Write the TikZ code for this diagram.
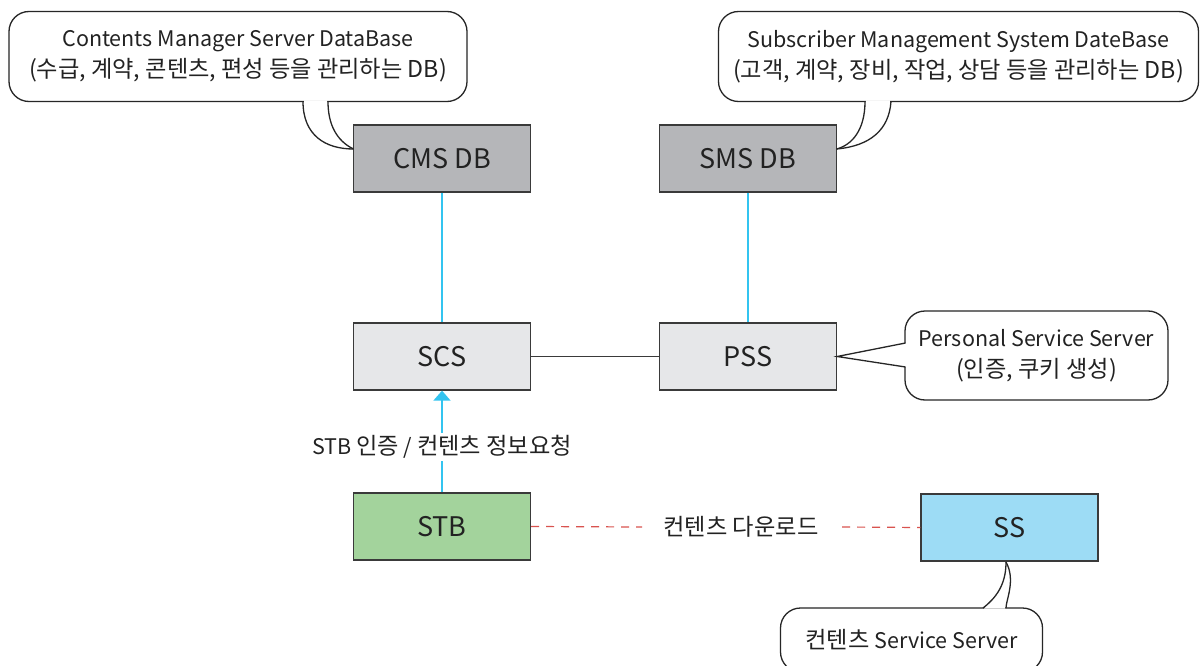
\documentclass[tikz,border=0pt]{standalone}
\usepackage{fontspec}
\setmainfont{Noto Sans CJK KR}
\newfontfamily\kr{Noto Sans CJK KR}[Scale=1.08]
\usetikzlibrary{arrows.meta}
\definecolor{txt}{HTML}{222222}
\definecolor{bord}{HTML}{3A3A3A}
\definecolor{dbgray}{HTML}{B5B6B9}
\definecolor{srvgray}{HTML}{E6E7E9}
\definecolor{stbgreen}{HTML}{A3D39C}
\definecolor{ssblue}{HTML}{9DDCF5}
\definecolor{cyanline}{HTML}{33C4F0}
\definecolor{dashred}{HTML}{D9534F}
\tikzset{
  box/.style={draw=bord, line width=1.3pt, minimum width=177pt, minimum height=67pt, inner sep=0pt,
    font=\fontsize{27}{32}\selectfont, text=txt},
  callout/.style={draw=black!85, line width=1.3pt, fill=white, rounded corners=20pt, inner sep=0pt,
    align=center, font=\fontsize{21.5}{31}\selectfont, text=txt},
  tailline/.style={draw=black!85, line width=1.3pt},
  cyanconn/.style={draw=cyanline, line width=1.8pt},
  lbl/.style={font=\fontsize{21.5}{24}\selectfont, text=txt, inner sep=0pt},
}
\begin{document}
\begin{tikzpicture}[x=1pt,y=-1pt]
\useasboundingbox[fill=white] (0,0) rectangle (1200,666);

% boxes
\node[box, fill=dbgray] (cms) at (442,158.5) {CMS DB};
\node[box, fill=dbgray] (sms) at (748,158.5) {SMS DB};
\node[box, fill=srvgray] (scs) at (442,356.5) {SCS};
\node[box, fill=srvgray] (pss) at (748,356.5) {PSS};
\node[box, fill=stbgreen] (stb) at (442,526.5) {STB};
\node[box, fill=ssblue] (ss) at (1009.5,527.5) {SS};

% connectors
\draw[cyanconn] (cms.south) -- (scs.north);
\draw[cyanconn] (sms.south) -- (pss.north);
\draw[draw=bord, line width=1.2pt] (scs.east) -- (pss.west);

\node[lbl, minimum height=28pt] (req) at (442,447) {STB {\kr 인증} / {\kr 컨텐츠 정보요청}};
\draw[cyanconn] (stb.north) -- (req.south);
\draw[cyanconn, -{Triangle[width=17pt,length=10pt]}] (req.north) -- (scs.south);

\node[lbl] (dl) at (741,527) {\kr 컨텐츠 다운로드};
\coordinate (dlw) at (642,527);
\coordinate (dle) at (842,527);
\draw[draw=dashred, line width=1.2pt, dash pattern=on 8pt off 7pt] (stb.east) -- (dlw);
\draw[draw=dashred, line width=1.2pt, dash pattern=on 8pt off 7pt] (dle) -- (ss.west);

% callout 1
\node[callout, minimum width=458pt, minimum height=90pt] (c1) at (238,56.5)
  {Contents Manager Server DataBase\\{\kr (수급, 계약, 콘텐츠, 편성 등을 관리하는 DB)}};
\coordinate (t1) at (353.5,149);
\fill[white] (304,100.5) .. controls (304,135) and (325,149) .. (t1) .. controls (337,140) and (328,125) .. (327,100.5) -- cycle;
\draw[tailline] (303,101.5) .. controls (303,135) and (325,149) .. (t1);
\draw[tailline] (328,101.5) .. controls (328,125) and (337,141) .. (t1);

% callout 2
\node[callout, minimum width=480pt, minimum height=90pt] (c2) at (958.5,56.5)
  {Subscriber Management System DateBase\\{\kr (고객, 계약, 장비, 작업, 상담 등을 관리하는 DB)}};
\coordinate (t2) at (836.5,149);
\fill[white] (866,100.5) .. controls (866,130) and (852,145) .. (t2) .. controls (870,145) and (888,130) .. (890,100.5) -- cycle;
\draw[tailline] (865,101.5) .. controls (865,130) and (852,145) .. (t2);
\draw[tailline] (891,101.5) .. controls (889,130) and (870,146) .. (t2);

% callout 3
\node[callout, minimum width=263pt, minimum height=89pt] (c3) at (1036.5,355.5)
  {Personal Service Server\\{\kr (인증, 쿠키 생성)}};
\coordinate (t3) at (pss.east);
\fill[white] (906,343) -- (t3) -- (906,367) -- cycle;
\draw[tailline] (905.5,343) -- (t3) -- (905.5,367);

% callout 4
\node[callout, minimum width=262pt, minimum height=64pt] (c4) at (911.5,640)
  {{\kr 컨텐츠} Service Server};
\coordinate (t4) at (1006,562);
\fill[white] (984,608.5) .. controls (1000,595) and (1006,580) .. (t4) .. controls (1014,580) and (1006,600) .. (1005,608.5) -- cycle;
\draw[tailline] (983,608) .. controls (1000,595) and (1006,580) .. (t4);
\draw[tailline] (1006,608) .. controls (1006,600) and (1016,580) .. (t4);
\end{tikzpicture}
\end{document}
